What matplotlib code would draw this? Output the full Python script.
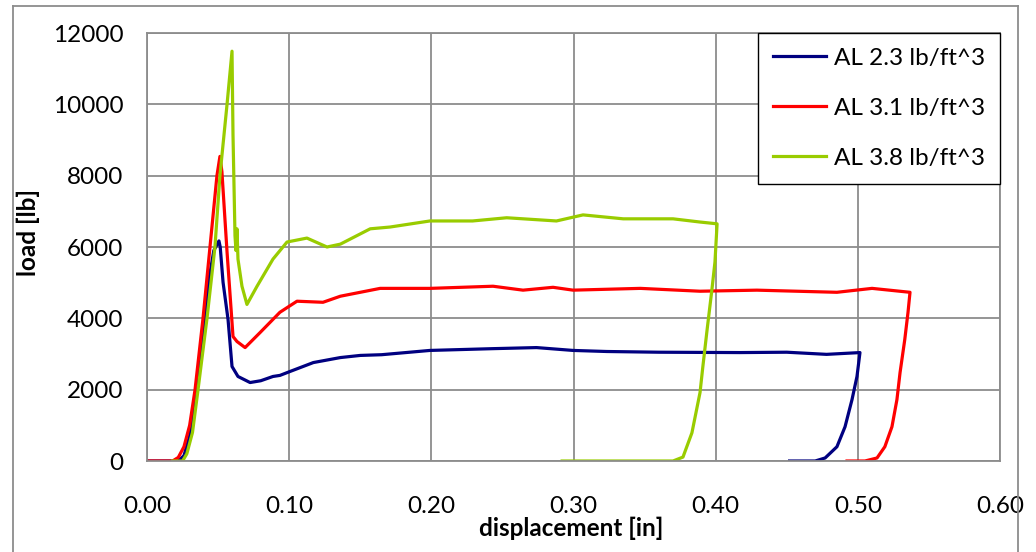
import matplotlib
matplotlib.use("Agg")
import matplotlib.pyplot as plt
from matplotlib.lines import Line2D

plt.rcParams['font.family'] = ['Lato', 'DejaVu Sans']

# AL 2.3 lb/ft^3
disp_23 = [0.0, 0.022, 0.026, 0.030, 0.035, 0.040, 0.0436, 0.047, 0.0506, 0.0515, 0.0535,
           0.057, 0.0598, 0.064, 0.0725, 0.0800, 0.0886, 0.0935, 0.1006, 0.117, 0.136, 0.150,
           0.165, 0.199, 0.2434, 0.274, 0.2997, 0.3235, 0.36, 0.417, 0.45, 0.478, 0.5015,
           0.4994, 0.4959, 0.491, 0.4853, 0.477, 0.470, 0.452]
load_23 = [0, 0, 150, 700, 2000, 3700, 5100, 5900, 6170, 6000, 5010,
           3970, 2650, 2370, 2200, 2250, 2370, 2400, 2510, 2760, 2900, 2960,
           2980, 3100, 3150, 3180, 3100, 3070, 3050, 3040, 3050, 2990, 3040,
           2370, 1720, 960, 400, 85, 0, 0]

# AL 3.1 lb/ft^3
disp_31 = [0.0, 0.018, 0.022, 0.026, 0.030, 0.0338, 0.0394, 0.0443, 0.0492, 0.0513, 0.0527,
           0.0563, 0.0605, 0.0633, 0.069, 0.0795, 0.0935, 0.1055, 0.1238, 0.136, 0.164,
           0.199, 0.2434, 0.2645, 0.2856, 0.2997, 0.347, 0.389, 0.429, 0.4853, 0.51,
           0.5367, 0.5353, 0.533, 0.5297, 0.5275, 0.524, 0.519, 0.5135, 0.505, 0.4924]
load_31 = [0, 0, 100, 400, 1000, 2000, 4000, 6000, 8000, 8540, 8110,
           5860, 3490, 3350, 3180, 3600, 4170, 4480, 4450, 4620, 4840,
           4840, 4900, 4790, 4870, 4790, 4840, 4760, 4790, 4730, 4840,
           4730, 4170, 3400, 2480, 1720, 960, 400, 85, 0, 0]

# AL 3.8 lb/ft^3
disp_38 = [0.018, 0.025, 0.028, 0.032, 0.0359, 0.0422, 0.0478, 0.0513, 0.0563, 0.0598,
           0.0605, 0.0619, 0.0626, 0.0633, 0.064, 0.0668, 0.0703, 0.0774, 0.0886, 0.0985,
           0.1125, 0.1266, 0.136, 0.157, 0.171, 0.199, 0.229, 0.253, 0.288, 0.3067,
           0.335, 0.37, 0.389, 0.401, 0.3995, 0.3974, 0.394, 0.391, 0.389, 0.3833,
           0.377, 0.37, 0.292]
load_38 = [0, 0, 200, 800, 2000, 4000, 6000, 8000, 10000, 11490,
           9130, 6310, 5900, 6510, 5660, 4900, 4390, 4900, 5660, 6140,
           6250, 6000, 6080, 6510, 6560, 6730, 6730, 6820, 6730, 6900,
           6790, 6790, 6700, 6650, 5580, 4820, 3690, 2650, 1920, 790,
           110, 0, 0]

labels = ['AL 2.3 lb/ft^3', 'AL 3.1 lb/ft^3', 'AL 3.8 lb/ft^3']
colors = ['#000080', '#FF0000', '#99CC00']
x_ticks = [0.0, 0.1, 0.2, 0.3, 0.4, 0.5, 0.6]
y_ticks = [0, 2000, 4000, 6000, 8000, 10000, 12000]

fig = plt.figure(figsize=(10.36, 5.52), dpi=100)
ax = fig.add_axes([147 / 1036, 91 / 552, 853 / 1036, 428 / 552])

for xs, ys, lab, c in zip([disp_23, disp_31, disp_38], [load_23, load_31, load_38], labels, colors):
    ax.plot(xs, ys, color=c, lw=2.3, label=lab)

ax.set_xlim(0, 0.6)
ax.set_ylim(0, 12000)
ax.set_xticks(x_ticks)
ax.set_xticklabels(['%.2f' % v for v in x_ticks])
ax.set_yticks(y_ticks)
ax.set_yticklabels([str(v) for v in y_ticks])
ax.tick_params(length=0, labelsize=17.5)
ax.tick_params(axis='x', pad=25)
ax.tick_params(axis='y', pad=17)
ax.grid(True, color='#8c8c8c', lw=1.3)
for s in ax.spines.values():
    s.set_color('#8c8c8c')
    s.set_linewidth(1.3)

ax.set_xlabel('displacement [in]', fontsize=17.5, fontweight='bold')
ax.xaxis.set_label_coords(0.497, -0.13)
ax.set_ylabel('load [lb]', fontsize=17.5, fontweight='bold')
ax.yaxis.set_label_coords(-0.125, 0.535)

leg = ax.legend(loc='upper right', bbox_to_anchor=(1.0, 1.0), fontsize=17.5,
                fancybox=False, framealpha=1, edgecolor='black', borderpad=0.6,
                labelspacing=1.2, handlelength=2.2, handletextpad=0.33, borderaxespad=0)
leg.get_frame().set_linewidth(1.0)
leg.get_frame().set_zorder(5)

# outer chart border
fig.add_artist(Line2D([13 / 1036, 13 / 1036], [0, 1 - 6 / 552], color='#8c8c8c', lw=1.3))
fig.add_artist(Line2D([13 / 1036, 1018 / 1036], [1 - 6 / 552, 1 - 6 / 552], color='#8c8c8c', lw=1.3))
fig.add_artist(Line2D([1018 / 1036, 1018 / 1036], [0, 1 - 6 / 552], color='#8c8c8c', lw=1.3))

fig.savefig('out.png', dpi=100)
